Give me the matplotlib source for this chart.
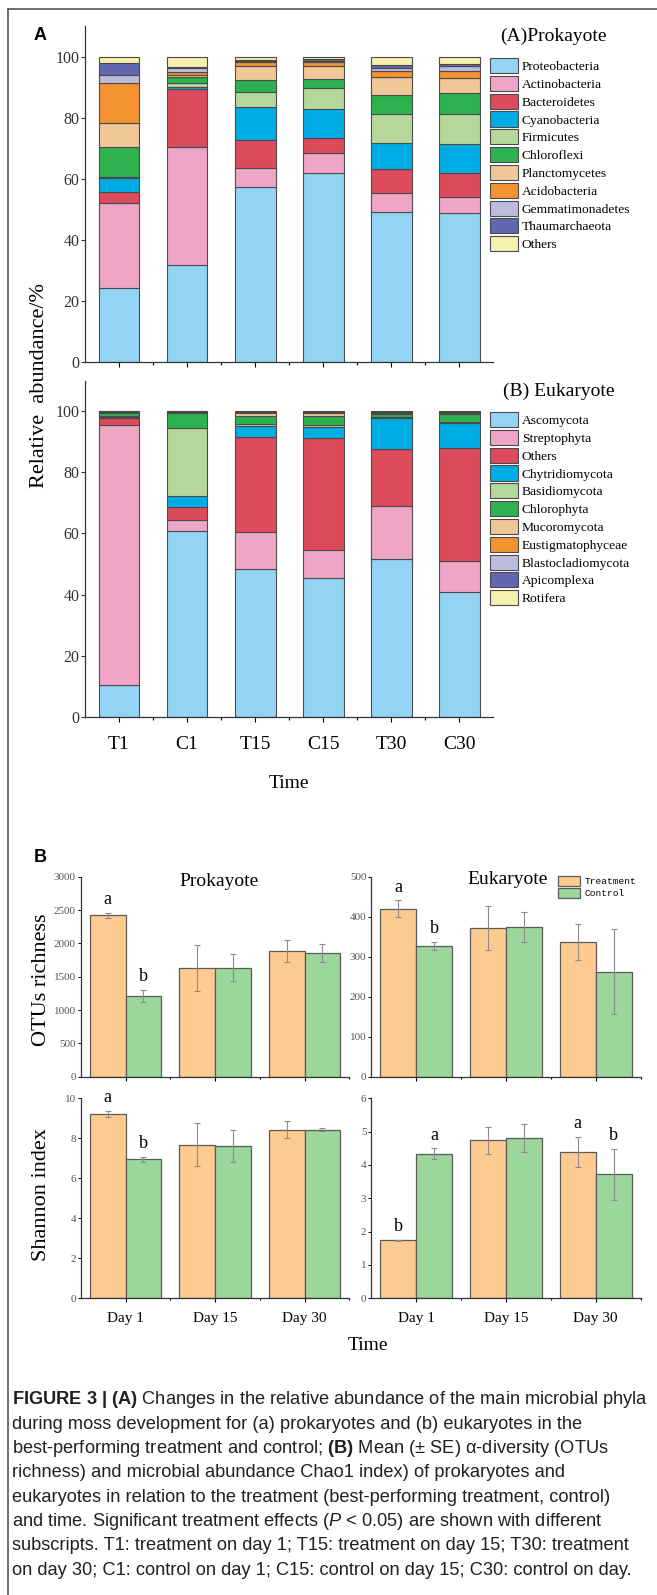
import numpy as np
import matplotlib
matplotlib.use('Agg')
import matplotlib.pyplot as plt
from matplotlib.lines import Line2D

plt.rcParams['font.family'] = ['Liberation Serif', 'DejaVu Serif']
plt.rcParams['mathtext.fontset'] = 'custom'
plt.rcParams['mathtext.rm'] = 'Liberation Sans'
plt.rcParams['mathtext.bf'] = 'Liberation Sans:bold'
plt.rcParams['mathtext.it'] = 'Liberation Sans:italic'

# --- Datos: abundancia relativa (%) ---------------------------------------------
samples = ['T1', 'C1', 'T15', 'C15', 'T30', 'C30']

prok_taxa = ['Proteobacteria', 'Actinobacteria', 'Bacteroidetes', 'Cyanobacteria', 'Firmicutes',
             'Chloroflexi', 'Planctomycetes', 'Acidobacteria', 'Gemmatimonadetes', 'Thaumarchaeota', 'Others']
prok_values = [
    [24.0, 31.6, 57.2, 61.7, 49.0, 48.6],   # Proteobacteria
    [28.1, 38.8, 6.4, 6.6, 6.2, 5.3],       # Actinobacteria
    [3.4, 19.0, 9.2, 4.9, 7.9, 7.8],        # Bacteroidetes
    [4.8, 0.6, 10.6, 9.5, 8.7, 9.6],        # Cyanobacteria
    [0.3, 1.3, 5.0, 7.1, 9.5, 9.8],         # Firmicutes
    [9.8, 2.0, 3.8, 2.8, 6.0, 7.0],         # Chloroflexi
    [7.7, 0.8, 4.6, 4.4, 5.9, 4.8],         # Planctomycetes
    [13.2, 0.9, 1.3, 1.2, 2.1, 2.4],        # Acidobacteria
    [2.8, 1.2, 0.3, 0.4, 1.1, 1.6],         # Gemmatimonadetes
    [3.7, 0.4, 0.6, 0.6, 0.8, 0.6],         # Thaumarchaeota
    [2.2, 3.4, 1.0, 0.8, 2.8, 2.5],         # Others
]

euk_taxa = ['Ascomycota', 'Streptophyta', 'Others', 'Chytridiomycota', 'Basidiomycota', 'Chlorophyta',
            'Mucoromycota', 'Eustigmatophyceae', 'Blastocladiomycota', 'Apicomplexa', 'Rotifera']
euk_values = [
    [10.4, 60.9, 48.2, 45.3, 51.5, 40.7],   # Ascomycota
    [85.0, 3.4, 12.3, 9.4, 17.5, 10.3],     # Streptophyta
    [2.4, 4.2, 31.1, 36.7, 18.8, 37.1],     # Others
    [0.2, 3.6, 3.7, 3.5, 10.1, 7.9],        # Chytridiomycota
    [0.6, 22.4, 0.6, 0.5, 0.3, 0.4],        # Basidiomycota
    [0.9, 5.0, 2.7, 3.2, 0.9, 2.8],         # Chlorophyta
    [0.2, 0.1, 0.9, 0.7, 0.2, 0.2],         # Mucoromycota
    [0.1, 0.1, 0.1, 0.2, 0.1, 0.1],         # Eustigmatophyceae
    [0.1, 0.1, 0.1, 0.1, 0.1, 0.1],         # Blastocladiomycota
    [0.05, 0.2, 0.2, 0.3, 0.3, 0.3],        # Apicomplexa
    [0.05, 0.1, 0.1, 0.1, 0.2, 0.1],        # Rotifera
]

taxa_colors = ['#93D4F4', '#EEA5C6', '#DC4A5B', '#00ACE4', '#B6D79C', '#2EB24F',
               '#F0C796', '#F49331', '#BDBCDF', '#6167B1', '#F6EFAE']

# --- Datos: diversidad alfa (media y SE) ----------------------------------------
days = ['Day 1', 'Day 15', 'Day 30']
otu_prok_trt = [2423, 1634, 1887]
otu_prok_trt_se = [40, 343, 160]
otu_prok_ctl = [1216, 1634, 1856]
otu_prok_ctl_se = [90, 200, 137]
otu_euk_trt = [420, 371, 337]
otu_euk_trt_se = [21, 55, 46]
otu_euk_ctl = [327, 374, 263]
otu_euk_ctl_se = [10, 37, 107]
sh_prok_trt = [9.23, 7.69, 8.43]
sh_prok_trt_se = [0.14, 1.07, 0.43]
sh_prok_ctl = [6.96, 7.61, 8.43]
sh_prok_ctl_se = [0.12, 0.80, 0.07]
sh_euk_trt = [1.74, 4.74, 4.39]
sh_euk_trt_se = [0.02, 0.41, 0.46]
sh_euk_ctl = [4.34, 4.81, 3.72]
sh_euk_ctl_se = [0.16, 0.42, 0.77]

# letras de significancia (treatment, control)
otu_prok_let = (['a', '', ''], ['b', '', ''])
otu_euk_let = (['a', '', ''], ['b', '', ''])
sh_prok_let = (['a', '', ''], ['b', '', ''])
sh_euk_let = (['b', '', 'a'], ['a', '', 'b'])

# --- Figura ----------------------------------------------------------------------
W, H = 657, 1595
fig = plt.figure(figsize=(W / 100, H / 100), dpi=100)

def px_axes(x0, y0, x1, y1):
    return fig.add_axes([x0 / W, 1 - y1 / H, (x1 - x0) / W, (y1 - y0) / H])

def px_text(x, y, s, **kw):
    return fig.text(x / W, 1 - y / H, s, **kw)

# marco
fig.add_artist(Line2D([8 / W, 8 / W], [0, 1 - 8.5 / H], transform=fig.transFigure, color='#555555', lw=1.2))
fig.add_artist(Line2D([8 / W, 1], [1 - 8.5 / H, 1 - 8.5 / H], transform=fig.transFigure, color='#555555', lw=1.2))


def stacked(ax, values, taxa, top_px, xlabels):
    x = np.arange(len(samples))
    bottom = np.zeros(len(samples))
    handles = []
    for vals, c in zip(values, taxa_colors):
        b = ax.bar(x, vals, 0.6, bottom=bottom, color=c, edgecolor='#4a4a4a', linewidth=0.8)
        handles.append(b)
        bottom += np.array(vals)
    ax.set_xlim(-0.5, 5.5)
    ax.set_ylim(0, 110)
    ax.set_yticks(range(0, 101, 20))
    ax.set_xticks(x)
    ax.set_xticks(x[:-1] + 0.5, minor=True)
    for s in ['top', 'right']:
        ax.spines[s].set_visible(False)
    for s in ['left', 'bottom']:
        ax.spines[s].set_color('#333333')
        ax.spines[s].set_linewidth(0.9)
    ax.tick_params(axis='y', direction='out', length=3, width=0.8, labelsize=11.5, pad=1, colors='#333333')
    ax.tick_params(axis='x', which='major', direction='out', length=3.6, width=0.8, pad=10, labelsize=14)
    ax.tick_params(axis='x', which='minor', direction='out', length=2, width=0.8)
    if xlabels:
        ax.set_xticklabels(samples)
    else:
        ax.set_xticklabels([])
    leg = ax.legend(handles, taxa, loc='upper left', bbox_to_anchor=(490 / W, 1 - top_px / H),
                    bbox_transform=fig.transFigure, frameon=False, fontsize=9.7, borderpad=0,
                    borderaxespad=0, handlelength=2.1, handleheight=1.35, labelspacing=0.2,
                    handletextpad=0.25)
    return leg


axA = px_axes(85, 26, 493.3, 361.7)
stacked(axA, prok_values, prok_taxa, 58, False)
axB = px_axes(85, 380.7, 493.3, 716.7)
stacked(axB, euk_values, euk_taxa, 412, True)

px_text(500, 36, '(A)Prokayote', fontsize=14, va='center', ha='left')
px_text(503, 391, '(B) Eukaryote', fontsize=14, va='center', ha='left')
px_text(40, 36, 'A', fontsize=13, fontweight='bold', family='Liberation Sans', va='center', ha='center')
px_text(40, 385, 'Relative  abundance/%', fontsize=16, rotation=90, va='center', ha='center')
px_text(289, 783, 'Time', fontsize=14, va='center', ha='center')


def barpanel(ax, trt, trt_se, ctl, ctl_se, ymax, ystep, letters, xlabels):
    x = np.arange(len(days))
    ekw = dict(ecolor='#8c8c8c', elinewidth=0.8, capsize=2, capthick=0.8)
    ax.bar(x - 0.2, trt, 0.4, yerr=trt_se, color='#FDCB8F', edgecolor='#5a5a5a', linewidth=0.9,
           error_kw=ekw, label='Treatment')
    ax.bar(x + 0.2, ctl, 0.4, yerr=ctl_se, color='#9BD69B', edgecolor='#5a5a5a', linewidth=0.9,
           error_kw=ekw, label='Control')
    off = 0.065 * ymax
    for i in range(len(days)):
        if letters[0][i]:
            ax.text(x[i] - 0.2, trt[i] + trt_se[i] + off, letters[0][i], fontsize=13, ha='center', va='center')
        if letters[1][i]:
            ax.text(x[i] + 0.2, ctl[i] + ctl_se[i] + off, letters[1][i], fontsize=13, ha='center', va='center')
    ax.set_xlim(-0.5, 2.5)
    ax.set_ylim(0, ymax)
    ax.set_yticks(np.arange(0, ymax + ystep / 2, ystep))
    ax.set_xticks(x)
    ax.set_xticks(x + 0.5, minor=True)
    for s in ['top', 'right']:
        ax.spines[s].set_visible(False)
    for s in ['left', 'bottom']:
        ax.spines[s].set_color('#333333')
        ax.spines[s].set_linewidth(0.9)
    ax.tick_params(axis='y', direction='out', length=2.5, width=0.7, labelsize=8, pad=1, labelcolor='#555555')
    ax.tick_params(axis='x', which='major', direction='out', length=3, width=0.8, pad=7, labelsize=11)
    ax.tick_params(axis='x', which='minor', direction='out', length=1.5, width=0.8)
    if xlabels:
        ax.set_xticklabels(days)
    else:
        ax.set_xticklabels([])


ax1 = px_axes(80.8, 876.7, 349.3, 1076.7)
barpanel(ax1, otu_prok_trt, otu_prok_trt_se, otu_prok_ctl, otu_prok_ctl_se, 3000, 500, otu_prok_let, False)
ax2 = px_axes(371.2, 876.7, 640.6, 1076.7)
barpanel(ax2, otu_euk_trt, otu_euk_trt_se, otu_euk_ctl, otu_euk_ctl_se, 500, 100, otu_euk_let, False)
ax3 = px_axes(80.8, 1098.3, 349.3, 1298.3)
barpanel(ax3, sh_prok_trt, sh_prok_trt_se, sh_prok_ctl, sh_prok_ctl_se, 10, 2, sh_prok_let, True)
ax4 = px_axes(371.2, 1098.3, 640.6, 1298.3)
barpanel(ax4, sh_euk_trt, sh_euk_trt_se, sh_euk_ctl, sh_euk_ctl_se, 6, 1, sh_euk_let, True)

ax2.legend(loc='upper left', bbox_to_anchor=(558 / W, 1 - 876 / H), bbox_transform=fig.transFigure,
           frameon=False, prop={'family': 'Liberation Mono', 'size': 6.8}, borderpad=0, borderaxespad=0,
           handlelength=2.3, handleheight=1.2, labelspacing=0.25, handletextpad=0.5)

px_text(219, 881, 'Prokayote', fontsize=14, va='center', ha='center')
px_text(508, 880, 'Eukaryote', fontsize=14, va='center', ha='center')
px_text(40, 858, 'B', fontsize=13, fontweight='bold', family='Liberation Sans', va='center', ha='center')
px_text(41, 980, 'OTUs richness', fontsize=16, rotation=90, va='center', ha='center')
px_text(41, 1195, 'Shannon index', fontsize=16, rotation=90, va='center', ha='center')
px_text(368, 1345, 'Time', fontsize=14, va='center', ha='center')

# --- Leyenda de la figura ----------------------------------------------------------
caption = [
    r'$\mathbf{FIGURE\ 3\ |\ (A)}$ Changes in the relative abundance of the main microbial phyla',
    'during moss development for (a) prokaryotes and (b) eukaryotes in the',
    r'best-performing treatment and control; $\mathbf{(B)}$ Mean (± SE) α-diversity (OTUs',
    'richness) and microbial abundance Chao1 index) of prokaryotes and',
    'eukaryotes in relation to the treatment (best-performing treatment, control)',
    r'and time. Significant treatment effects ($\mathit{P}$ < 0.05) are shown with different',
    'subscripts. T1: treatment on day 1; T15: treatment on day 15; T30: treatment',
    'on day 30; C1: control on day 1; C15: control on day 15; C30: control on day.',
]
# ajusto el tamaño para que la primera línea ocupe el ancho del original (~636 px)
r = fig.canvas.get_renderer()
t0 = px_text(12, 1400, caption[0], fontsize=12, family='Liberation Sans', color='#231f20', va='center', ha='left')
cap_size = 12 * 636 / t0.get_window_extent(r).width
t0.set_fontsize(cap_size)
for i, line in enumerate(caption[1:], start=1):
    px_text(12, 1400 + 24.3 * i, line, fontsize=cap_size, family='Liberation Sans', color='#231f20',
            va='center', ha='left')

fig.savefig('out.png', dpi=100)
